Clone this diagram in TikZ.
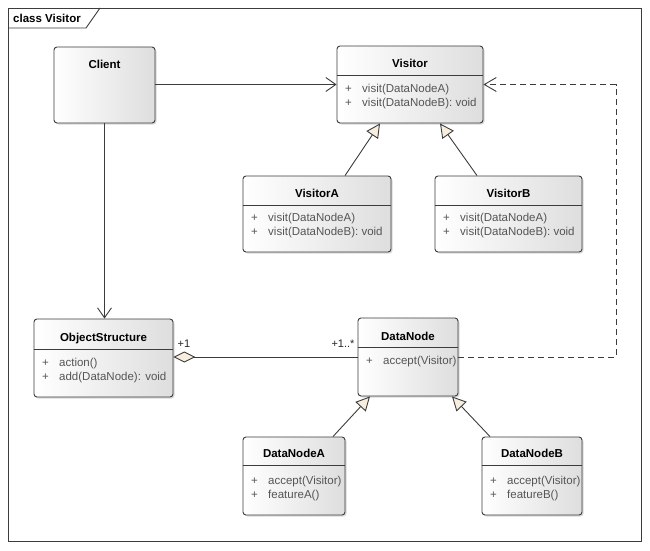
\documentclass[tikz,border=0pt]{standalone}
\usepackage{fontspec}
\setmainfont{Liberation Sans}
\usetikzlibrary{arrows.meta,shadows,calc}
\definecolor{edge}{HTML}{3C3C3C}
\definecolor{attr}{HTML}{555555}
\definecolor{tri}{HTML}{F7EEDD}
\begin{document}
\begin{tikzpicture}[x=1pt,y=-1pt,
  classbox/.style={draw=edge, line width=0.9pt, rounded corners=3pt, left color=white, right color=black!13,
    drop shadow={opacity=0.3,shadow xshift=1.5pt,shadow yshift=-1.5pt}, inner sep=0pt},
  ctitle/.style={font=\bfseries\fontsize{11.5}{13}\selectfont, inner sep=0pt, text height=8.2pt, text depth=0pt},
  cattr/.style={font=\fontsize{11.5}{13}\selectfont, text=attr, anchor=west, inner sep=0pt, text height=8.2pt, text depth=0pt},
  mult/.style={font=\fontsize{11}{13}\selectfont, text=black!85, inner sep=0pt},
  divider/.style={draw=edge, line width=0.9pt},
  frame/.style={draw=edge, line width=0.9pt},
  conn/.style={draw=edge, line width=0.9pt},
  assoc/.style={conn, -{Straight Barb[length=10pt,width=14pt]}},
  gen/.style={conn, -{Triangle[length=14pt,width=14pt,fill=tri]}},
  aggr/.style={conn, {Diamond[length=22pt,width=11pt,fill=tri]}-},
  dep/.style={conn, dash pattern=on 6pt off 4pt, -{Straight Barb[length=12pt,width=14pt]}}
]
\useasboundingbox (0,0) rectangle (650,551);
% frame
\draw[frame] (8,8) rectangle (641,541);
\draw[frame] (8,28) -- (86,28) -- (100,8);
\node[ctitle, anchor=west] (framelabel) at (13,18) {class Visitor};

% Client
\node[classbox, minimum width=101pt, minimum height=76pt] (client) at (104.5,85) {};
\node[ctitle] (client-t) at (104.5,64) {Client};

% Visitor
\node[classbox, minimum width=146pt, minimum height=77pt] (visitor) at (410,84.5) {};
\node[ctitle] (visitor-t) at (410,63) {Visitor};
\draw[divider] ([yshift=-29.5pt]visitor.north west) -- ([yshift=-29.5pt]visitor.north east);
\node[cattr] (visitor-a1) at (345,88) {\makebox[17pt][l]{+}visit(DataNodeA)};
\node[cattr] (visitor-a2) at (345,102) {\makebox[17pt][l]{+}visit(DataNodeB): void};

% VisitorA
\node[classbox, minimum width=148pt, minimum height=76pt] (va) at (317,214) {};
\node[ctitle] (va-t) at (317,193) {VisitorA};
\draw[divider] ([yshift=-30pt]va.north west) -- ([yshift=-30pt]va.north east);
\node[cattr] (va-a1) at (251,217) {\makebox[17pt][l]{+}visit(DataNodeA)};
\node[cattr] (va-a2) at (251,231) {\makebox[17pt][l]{+}visit(DataNodeB): void};

% VisitorB
\node[classbox, minimum width=147pt, minimum height=76pt] (vb) at (508.5,214) {};
\node[ctitle] (vb-t) at (508.5,193) {VisitorB};
\draw[divider] ([yshift=-30pt]vb.north west) -- ([yshift=-30pt]vb.north east);
\node[cattr] (vb-a1) at (443,217) {\makebox[17pt][l]{+}visit(DataNodeA)};
\node[cattr] (vb-a2) at (443,231) {\makebox[17pt][l]{+}visit(DataNodeB): void};

% ObjectStructure
\node[classbox, minimum width=139pt, minimum height=78pt] (os) at (103.5,358) {};
\node[ctitle] (os-t) at (103.5,337) {ObjectStructure};
\draw[divider] ([yshift=-31pt]os.north west) -- ([yshift=-31pt]os.north east);
\node[cattr] (os-a1) at (42,362) {\makebox[17pt][l]{+}action()};
\node[cattr] (os-a2) at (42,376) {\makebox[17pt][l]{+}add(DataNode): void};

% DataNode
\node[classbox, minimum width=100pt, minimum height=78pt] (dn) at (408,357) {};
\node[ctitle] (dn-t) at (408,336) {DataNode};
\draw[divider] ([yshift=-30pt]dn.north west) -- ([yshift=-30pt]dn.north east);
\node[cattr] (dn-a1) at (366,360) {\makebox[17pt][l]{+}accept(Visitor)};

% DataNodeA
\node[classbox, minimum width=102pt, minimum height=78pt] (dna) at (294,476) {};
\node[ctitle] (dna-t) at (294,453) {DataNodeA};
\draw[divider] ([yshift=-29pt]dna.north west) -- ([yshift=-29pt]dna.north east);
\node[cattr] (dna-a1) at (251,480) {\makebox[17pt][l]{+}accept(Visitor)};
\node[cattr] (dna-a2) at (251,494) {\makebox[17pt][l]{+}featureA()};

% DataNodeB
\node[classbox, minimum width=100pt, minimum height=78pt] (dnb) at (532,476) {};
\node[ctitle] (dnb-t) at (532,453) {DataNodeB};
\draw[divider] ([yshift=-29pt]dnb.north west) -- ([yshift=-29pt]dnb.north east);
\node[cattr] (dnb-a1) at (490,480) {\makebox[17pt][l]{+}accept(Visitor)};
\node[cattr] (dnb-a2) at (490,494) {\makebox[17pt][l]{+}featureB()};

% connectors
\draw[assoc] (client.east |- visitor.west) -- (visitor.west);
\draw[assoc] (client.south) -- (client.south |- os.north);
\draw[gen] ([xshift=28pt]va.north) -- ([xshift=-30pt]visitor.south);
\draw[gen] ([xshift=-31.5pt]vb.north) -- ([xshift=30pt]visitor.south);
\draw[gen] ([xshift=39pt]dna.north) -- ([xshift=-38pt]dn.south);
\draw[gen] ([xshift=-42pt]dnb.north) -- ([xshift=44pt]dn.south);
\draw[aggr] (os.east |- dn.west) -- (dn.west);
\node[mult] (m1) at (184,344) {+1};
\node[mult] (m2) at (343,344) {+1..*};
\coordinate (corner) at (616,84.5);
\draw[dep] (dn.east) -| (corner) -- (visitor.east);
\end{tikzpicture}
\end{document}
